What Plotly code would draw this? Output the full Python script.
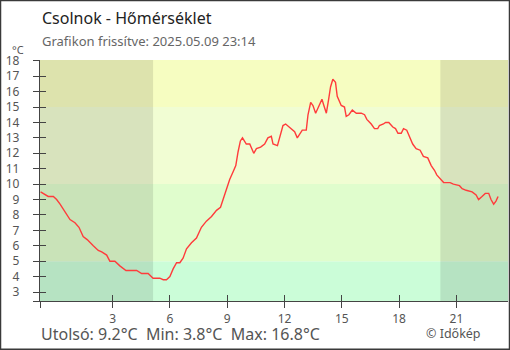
import plotly.graph_objects as go

# Temperature readings (hour of day, °C); negative hours are the previous evening
hours = [-0.77, -0.63, -0.37, -0.1, 0.07, 0.25, 0.42, 0.6, 0.77, 1.03, 1.24, 1.46, 1.67, 1.99,
         2.25, 2.43, 2.69, 2.86, 3.12, 3.38, 3.70, 3.99, 4.26, 4.52, 4.86, 5.12, 5.47, 5.65,
         5.82, 6.0, 6.17, 6.35, 6.52, 6.69, 6.87, 7.13, 7.39, 7.65, 7.91, 8.18, 8.44, 8.65,
         8.78, 8.96, 9.13, 9.31, 9.45, 9.57, 9.69, 9.80, 10.0, 10.18, 10.39, 10.53, 10.75,
         10.96, 11.13, 11.31, 11.40, 11.63, 11.78, 11.92, 12.06, 12.27, 12.53, 12.67, 12.79,
         12.93, 13.14, 13.23, 13.37, 13.49, 13.63, 13.80, 13.96, 14.06, 14.19, 14.31, 14.41,
         14.53, 14.67, 14.76, 14.85, 14.97, 15.14, 15.23, 15.37, 15.55, 15.76, 16.02, 16.19,
         16.31, 16.54, 16.71, 16.88, 16.97, 17.18, 17.29, 17.46, 17.67, 17.81, 17.94, 18.11,
         18.23, 18.40, 18.54, 18.71, 18.89, 19.10, 19.27, 19.50, 19.68, 19.85, 19.97, 20.16,
         20.33, 20.67, 20.84, 21.16, 21.30, 21.51, 21.82, 22.03, 22.16, 22.34, 22.51, 22.69,
         22.81, 22.95, 23.07, 23.18]
temps = [9.5, 9.4, 9.2, 9.2, 9.0, 8.7, 8.4, 8.0, 7.7, 7.5, 7.2, 6.6, 6.4, 6.0,
         5.7, 5.6, 5.4, 5.0, 5.0, 4.7, 4.4, 4.4, 4.4, 4.2, 4.2, 3.9, 3.9, 3.8,
         3.8, 4.0, 4.5, 4.9, 4.9, 5.2, 5.8, 6.2, 6.5, 7.2, 7.6, 7.9, 8.3, 8.5,
         9.0, 9.6, 10.3, 10.8, 11.2, 12.1, 12.8, 13.0, 12.6, 12.6, 12.0, 12.3, 12.4,
         12.6, 13.0, 13.1, 12.6, 12.5, 13.1, 13.8, 13.9, 13.7, 13.4, 13.0, 13.2,
         13.5, 13.5, 14.5, 15.3, 15.1, 14.6, 15.1, 15.5, 15.1, 14.6, 15.5, 16.3,
         16.8, 16.6, 15.7, 15.4, 15.1, 15.0, 14.4, 14.5, 14.8, 14.6, 14.6, 14.5,
         14.2, 13.9, 13.6, 13.6, 13.8, 13.9, 14.0, 14.0, 13.7, 13.6, 13.3, 13.3,
         13.6, 13.5, 13.1, 12.6, 12.3, 12.2, 11.8, 11.7, 11.2, 10.9, 10.6, 10.3,
         10.1, 10.1, 10.0, 9.9, 9.7, 9.6, 9.5, 9.3, 9.0, 9.2, 9.4, 9.4,
         9.0, 8.7, 8.9, 9.2]

x_ticks = [3, 6, 9, 12, 15, 18, 21]
y_ticks = list(range(3, 19))

# Temperature bands (lower bound, upper bound, colour)
band_edges = [2.42, 5, 10, 15, 18.05]
band_colors = ["#cbfdd8", "#e0fdcd", "#f1fdd3", "#f6fdc1"]

# Night periods (before sunrise, after sunset)
sunrise = 5.12
sunset = 20.16

x_range = [-0.8, 23.7]
y_range = [band_edges[0], band_edges[-1]]

last_t = temps[-1]
min_t = min(temps)
max_t = max(temps)

fig = go.Figure()
fig.add_trace(go.Scatter(x=hours, y=temps, mode="lines",
                         line=dict(color="#ff3b3b", width=1.4),
                         showlegend=False, hoverinfo="skip"))
# companion trace so the overlay axes (inner tick halves) are drawn
fig.add_trace(go.Scatter(x=hours[:1], y=temps[:1], mode="lines", xaxis="x2", yaxis="y2",
                         line=dict(width=0), showlegend=False, hoverinfo="skip"))

shapes = []
for lo, hi, col in zip(band_edges[:-1], band_edges[1:], band_colors):
    shapes.append(dict(type="rect", xref="x", yref="y", x0=x_range[0], x1=x_range[1],
                       y0=lo, y1=hi, fillcolor=col, line=dict(width=0), layer="below"))
for a, b in [(x_range[0], sunrise), (sunset, x_range[1])]:
    shapes.append(dict(type="rect", xref="x", yref="y", x0=a, x1=b,
                       y0=y_range[0], y1=y_range[1], fillcolor="rgba(0,0,0,0.1)",
                       line=dict(width=0), layer="below"))

W, H = 510, 350
ml, mr, mt, mb = 40, 2, 60, 49
pw, ph = W - ml - mr, H - mt - mb


def px(x):
    return (x - ml) / pw


def py(y):
    return (H - mb - y) / ph


# frame around the whole graphic
shapes.append(dict(type="rect", xref="paper", yref="paper",
                   x0=px(0.5), x1=px(509.5), y0=py(349.2), y1=py(0.5),
                   line=dict(color="#3a3a3a", width=1.5), fillcolor="rgba(0,0,0,0)"))

axis_col = "#444444"
font_family = "Noto Sans"
lbl_col = "#555555"

annotations = [
    dict(text="Csolnok - Hőmérséklet", x=px(40), y=py(18), xanchor="left", yanchor="middle",
         font=dict(size=16, color="#222222")),
    dict(text="Grafikon frissítve: 2025.05.09 23:14", x=px(40), y=py(41), xanchor="left",
         yanchor="middle", font=dict(size=13, color="#666666")),
    dict(text="°C", x=px(26), y=py(50), xanchor="right", yanchor="middle",
         font=dict(size=11, color=lbl_col)),
    dict(text=f"Utolsó: {last_t:.1f}°C  Min: {min_t:.1f}°C  Max: {max_t:.1f}°C",
         x=px(39), y=py(334), xanchor="left", yanchor="middle",
         font=dict(size=16, color=lbl_col)),
    dict(text="© Időkép", x=px(483), y=py(333), xanchor="right", yanchor="middle",
         font=dict(size=12.5, color=lbl_col)),
]
for a in annotations:
    a.update(xref="paper", yref="paper", showarrow=False)

fig.update_layout(
    width=W, height=H,
    margin=dict(l=ml, r=mr, t=mt, b=mb, pad=0),
    paper_bgcolor="white", plot_bgcolor="white",
    font=dict(family=font_family, color=lbl_col),
    shapes=shapes, annotations=annotations,
    xaxis=dict(range=x_range, tickvals=[x_range[0]] + x_ticks,
               ticktext=[""] + [str(t) for t in x_ticks],
               ticks="outside", ticklen=6, tickwidth=1.3, tickcolor=axis_col,
               showline=True, linecolor=axis_col, linewidth=1.3,
               showgrid=False, zeroline=False, tickfont=dict(size=12, color=lbl_col),
               fixedrange=True),
    yaxis=dict(range=y_range, tickvals=[y_range[0]] + y_ticks,
               ticktext=[""] + [str(t) for t in y_ticks],
               ticks="outside", ticklen=6, tickwidth=1.3, tickcolor=axis_col,
               showline=True, linecolor=axis_col, linewidth=1.3,
               showgrid=False, zeroline=False, tickfont=dict(size=12, color=lbl_col),
               ticklabelstandoff=11, fixedrange=True),
    xaxis2=dict(range=x_range, overlaying="x", side="bottom", anchor="y2",
                tickvals=[x_range[0]] + x_ticks, showticklabels=False,
                ticks="inside", ticklen=6, tickwidth=1.3, tickcolor=axis_col,
                showline=False, showgrid=False, zeroline=False, fixedrange=True),
    yaxis2=dict(range=y_range, overlaying="y", side="left", anchor="x2",
                tickvals=y_ticks, showticklabels=False,
                ticks="inside", ticklen=6, tickwidth=1.3, tickcolor=axis_col,
                showline=False, showgrid=False, zeroline=False, fixedrange=True),
)

fig.write_html("out.html", config={"displayModeBar": False})
